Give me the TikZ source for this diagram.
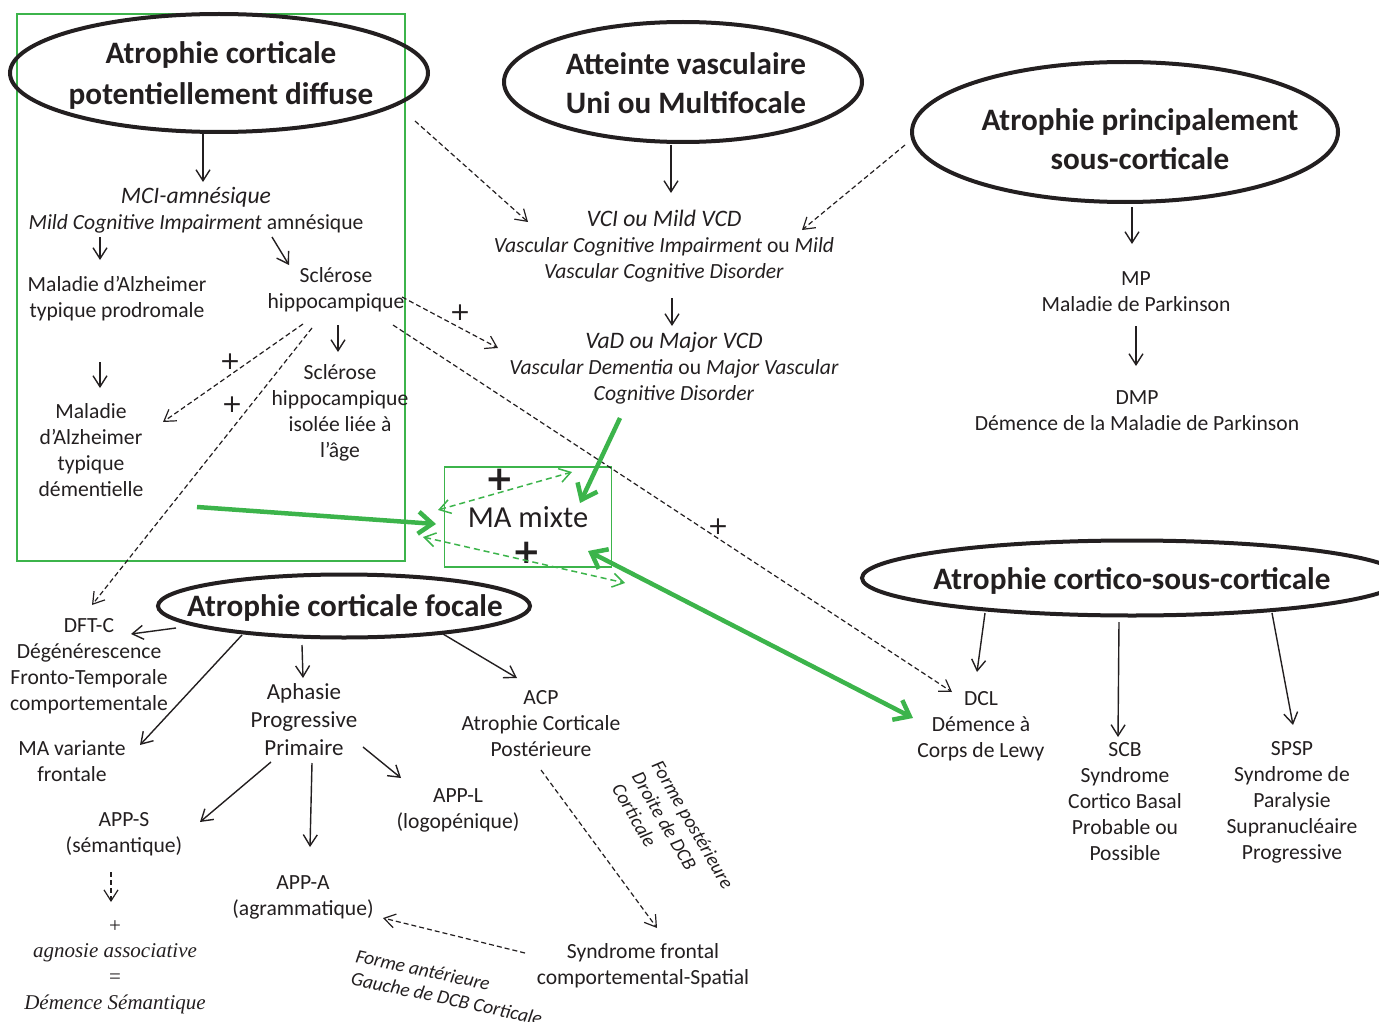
\documentclass[tikz,border=0pt]{standalone}
\usepackage{fontspec}
\setmainfont{Carlito}
\newfontfamily\timesfont{Liberation Serif}
\newfontfamily\plusfont{DejaVu Sans}
\usetikzlibrary{arrows.meta}
\definecolor{ink}{HTML}{231F20}
\definecolor{leafgreen}{HTML}{3CB44B}
\newcommand{\bodyfont}{\fontsize{21.6}{26}\selectfont}
\newcommand{\hdrfont}{\fontsize{23.6}{27}\selectfont\itshape}
\newcommand{\titlefont}{\fontsize{31.2}{39}\selectfont\bfseries}
\newcommand{\slantfont}{\fontsize{19.5}{23}\selectfont\itshape}

\begin{document}
\begin{tikzpicture}[x=1pt, y=-1pt,
    txt/.style={align=center, font=\bodyfont, text=ink, inner sep=1pt},
    titre/.style={align=center, font=\titlefont, text=ink, inner sep=0pt},
    oval/.style={draw=ink, line width=4pt},
    arr/.style={draw=ink, line width=1.4pt, -{Straight Barb[length=11pt, width=14pt]}},
    dsh/.style={arr, line width=1.2pt, dash pattern=on 5pt off 3pt},
    garr/.style={draw=leafgreen, line width=4.5pt, -{Straight Barb[length=14pt, width=22pt]}},
    gboth/.style={garr, {Straight Barb[length=14pt, width=22pt]}-{Straight Barb[length=14pt, width=22pt]}},
    gdsh/.style={draw=leafgreen, line width=1.5pt, dash pattern=on 6pt off 4pt,
      {Straight Barb[length=11pt, width=14pt]}-{Straight Barb[length=11pt, width=14pt]}},
    plus/.style={font=\plusfont\fontsize{25}{25}\selectfont, text=ink, inner sep=0pt},
    bigplus/.style={font=\plusfont\bfseries\fontsize{34}{34}\selectfont, text=ink, inner sep=0pt},
    gbox/.style={draw=leafgreen, line width=1.6pt, inner sep=0pt}]
    \useasboundingbox (0,0) rectangle (1379,1022);
    \clip (0,0) rectangle (1379,1022);

    \node [gbox, minimum width=388pt, minimum height=547pt] (alzbox) at (211,287.5) {};

    \node [titre] (diffuse) at (221,75) {Atrophie corticale\\[2pt]potentiellement diffuse};
    \node [titre] (vasc) at (686,83) {Atteinte vasculaire\\Uni ou Multifocale};
    \node [titre] (souscort) at (1140,139) {Atrophie principalement\\sous-corticale};
    \node [titre] (focale) at (345,608) {Atrophie corticale focale};
    \node [titre] (cortsous) at (1132,581) {Atrophie cortico-sous-corticale};
    \draw [oval] ([shift={(-2,-2)}]diffuse.center) ellipse [x radius=209, y radius=59];
    \draw [oval] ([shift={(-3,-1)}]vasc.center) ellipse [x radius=179, y radius=60];
    \draw [oval] ([shift={(-15,-7)}]souscort.center) ellipse [x radius=213, y radius=70];
    \draw [oval] ([shift={(-1,-2)}]focale.center) ellipse [x radius=186, y radius=31.5];
    \draw [oval] ([shift={(0,-3)}]cortsous.center) ellipse [x radius=270, y radius=37.5];

    \node [txt] (mci) at (196,210) {{\hdrfont MCI-amnésique}\\\textit{Mild Cognitive Impairment} amnésique};
    \node [txt] (prodromale) at (117,299) {Maladie d’Alzheimer\\typique prodromale};
    \node [txt] (hippo) at (336,290) {Sclérose\\hippocampique};
    \node [txt] (dementielle) at (91,450) {Maladie\\d’Alzheimer\\typique\\démentielle};
    \node [txt] (isolee) at (340,413) {Sclérose\\hippocampique\\isolée liée à\\l’âge};
    \node [txt] (vci) at (664,246) {{\hdrfont VCI ou Mild VCD}\\\textit{Vascular Cognitive Impairment} ou \textit{Mild}\\\textit{Vascular Cognitive Disorder}};
    \node [txt] (vad) at (674,368) {{\hdrfont VaD ou Major VCD}\\\textit{Vascular Dementia} ou \textit{Major Vascular}\\\textit{Cognitive Disorder}};
    \node [txt] (mp) at (1136,292) {MP\\Maladie de Parkinson};
    \node [txt] (dmp) at (1137,411) {DMP\\Démence de la Maladie de Parkinson};
    \node [txt, gbox, font=\fontsize{30.5}{36}\selectfont, minimum width=167pt, minimum height=100pt] (mixte) at (528,517) {MA mixte};
    \node [txt] (dftc) at (89,666) {DFT-C\\Dégénérescence\\Fronto-Temporale\\comportementale};
    \node [txt] (mavar) at (72,761) {MA variante\\frontale};
    \node [txt, font=\fontsize{23}{28}\selectfont] (aphasie) at (304,720) {Aphasie\\Progressive\\Primaire};
    \node [txt] (acp) at (541,724) {ACP\\Atrophie Corticale\\Postérieure};
    \node [txt] (appl) at (458,810) {APP-L\\(logopénique)};
    \node [txt] (apps) at (124,834) {APP-S\\(sémantique)};
    \node [txt] (appa) at (303,897) {APP-A\\(agrammatique)};
    \node [txt, font=\timesfont\fontsize{21}{25.7}\selectfont] (agnosie) at (115,967) {+\\\textit{agnosie associative}\\=\\\textit{Démence Sémantique}};
    \node [txt] (synd) at (643,966) {Syndrome frontal\\comportemental-Spatial};
    \node [txt] (dcl) at (981,726) {DCL\\Démence à\\Corps de Lewy};
    \node [txt] (scb) at (1125,802) {SCB\\Syndrome\\Cortico Basal\\Probable ou\\Possible};
    \node [txt] (spsp) at (1292,802) {SPSP\\Syndrome de\\Paralysie\\Supranucléaire\\Progressive};
    \node [txt, font=\slantfont, align=left, rotate=-12] (formeant) at (449,987) {Forme antérieure\\Gauche de DCB Corticale};
    \node [txt, font=\slantfont, align=left, rotate=-60] (formepost) at (673,836) {Forme postérieure\\Droite de DCB\\Corticale};

    \node [plus] (p1) at (460,313) {+};
    \node [plus] (p2) at (230,362) {+};
    \node [plus] (p3) at (232,405) {+};
    \node [plus] (p4) at (718,527) {+};
    \node [bigplus] (p5) at (500,480) {+};
    \node [bigplus] (p6) at (527,553) {+};

    \path [draw] ([shift={(-18,58)}]diffuse.center) edge[arr] ([shift={(7,-28)}]mci.center);
    \path [draw] ([shift={(-96,27)}]mci.center) edge[arr] ([shift={(-17,-39)}]prodromale.center);
    \path [draw] ([shift={(76,27)}]mci.center) edge[arr] ([shift={(-47,-25)}]hippo.center);
    \path [draw] ([shift={(-17,63)}]prodromale.center) edge[arr] ([shift={(9,-62)}]dementielle.center);
    \path [draw] ([shift={(2,35)}]hippo.center) edge[arr] ([shift={(-2,-61)}]isolee.center);
    \path [draw] ([shift={(-15,62)}]vasc.center) edge[arr] ([shift={(7,-53)}]vci.center);
    \path [draw] ([shift={(8,52)}]vci.center) edge[arr] ([shift={(-2,-42)}]vad.center);
    \path [draw] ([shift={(-8,68)}]souscort.center) edge[arr] ([shift={(-4,-48)}]mp.center);
    \path [draw] ([shift={(0,34)}]mp.center) edge[arr] ([shift={(-1,-45)}]dmp.center);
    \path [draw] ([shift={(-169,20)}]focale.center) edge[arr] ([shift={(42,-32)}]dftc.center);
    \path [draw] ([shift={(-103,27)}]focale.center) edge[arr] ([shift={(68,-16)}]mavar.center);
    \path [draw] ([shift={(-43,37)}]focale.center) edge[arr] ([shift={(-1,-42)}]aphasie.center);
    \path [draw] ([shift={(98,26)}]focale.center) edge[arr] ([shift={(-24,-46)}]acp.center);
    \path [draw] ([shift={(-33,42)}]aphasie.center) edge[arr] ([shift={(76,-12)}]apps.center);
    \path [draw] ([shift={(8,43)}]aphasie.center) edge[arr] ([shift={(7,-50)}]appa.center);
    \path [draw] ([shift={(59,27)}]aphasie.center) edge[arr] ([shift={(-57,-32)}]appl.center);
    \path [draw] ([shift={(-147,32)}]cortsous.center) edge[arr] ([shift={(-4,-54)}]dcl.center);
    \path [draw] ([shift={(-13,41)}]cortsous.center) edge[arr] ([shift={(-7,-65)}]scb.center);
    \path [draw] ([shift={(140,32)}]cortsous.center) edge[arr] ([shift={(1,-77)}]spsp.center);

    \path [draw] ([shift={(194,46)}]diffuse.center) edge[dsh] ([shift={(-136,-24)}]vci.center);
    \path [draw] ([shift={(-235,6)}]souscort.center) edge[dsh] ([shift={(138,-16)}]vci.center);
    \path [draw] ([shift={(66,7)}]hippo.center) edge[dsh] ([shift={(-176,-20)}]vad.center);
    \path [draw] ([shift={(57,35)}]hippo.center) edge[dsh] ([shift={(-29,-34)}]dcl.center);
    \path [draw] ([shift={(-33,34)}]hippo.center) edge[dsh] ([shift={(72,-28)}]dementielle.center);
    \path [draw] ([shift={(-24,38)}]hippo.center) edge[dsh] ([shift={(3,-61)}]dftc.center);
    \path [draw] ([shift={(-13,38)}]apps.center) edge[dsh] ([shift={(-4,-65)}]agnosie.center);
    \path [draw] ([shift={(0,46)}]acp.center) edge[dsh] ([shift={(14,-38)}]synd.center);
    \path [draw] ([shift={(-118,-13)}]synd.center) edge[dsh] ([shift={(80,21)}]appa.center);

    \path [draw] ([shift={(106,57)}]dementielle.center) edge[garr] ([shift={(-92,7)}]mixte.center);
    \path [draw] ([shift={(-54,50)}]vad.center) edge[garr] ([shift={(52,-14)}]mixte.center);
    \path [draw] ([shift={(60,34)}]mixte.center) edge[gboth] ([shift={(-68,-8)}]dcl.center);
    \path [draw] ([shift={(-90,-7)}]mixte.center) edge[gdsh] ([shift={(44,-45)}]mixte.center);
    \path [draw] ([shift={(-105,20)}]mixte.center) edge[gdsh] ([shift={(97,66)}]mixte.center);
\end{tikzpicture}
\end{document}
